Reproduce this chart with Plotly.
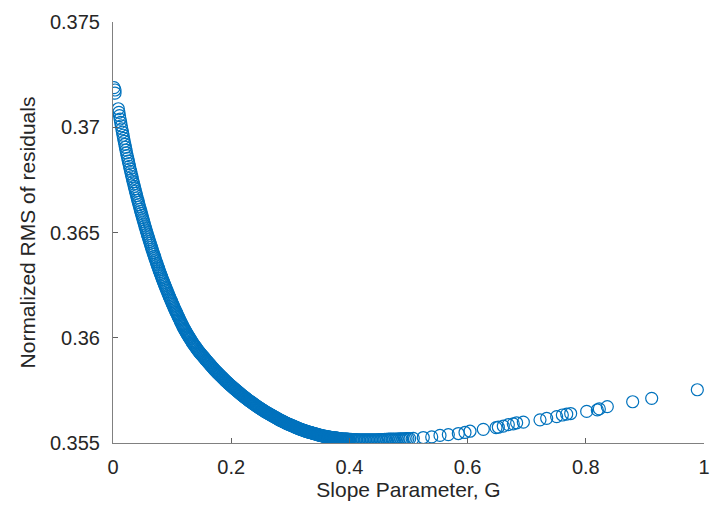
import plotly.graph_objects as go

# Slope parameter G (x) and normalized RMS of residuals (y)
g_vals = [
    0.0017, 0.0034, 0.0034,
    0.009, 0.010, 0.011, 0.012, 0.013, 0.014, 0.015, 0.016, 0.017, 0.018,
    0.019, 0.020, 0.021, 0.022, 0.023, 0.024, 0.025, 0.026, 0.027, 0.028,
    0.029, 0.030, 0.031, 0.032, 0.033, 0.034, 0.035, 0.036, 0.037, 0.038,
    0.039, 0.040, 0.041, 0.042, 0.043, 0.044, 0.045, 0.046, 0.047, 0.048,
    0.049, 0.050, 0.051, 0.052, 0.053, 0.054, 0.055, 0.056, 0.057, 0.058,
    0.059, 0.060, 0.061, 0.062, 0.063, 0.064, 0.065, 0.066, 0.067, 0.068,
    0.069, 0.070, 0.071, 0.072, 0.073, 0.074, 0.075, 0.076, 0.077, 0.078,
    0.079, 0.080, 0.081, 0.082, 0.083, 0.084, 0.085, 0.086, 0.087, 0.088,
    0.089, 0.090, 0.091, 0.092, 0.093, 0.094, 0.095, 0.096, 0.097, 0.098,
    0.099, 0.100, 0.101, 0.102, 0.103, 0.104, 0.105, 0.106, 0.107, 0.108,
    0.109, 0.110, 0.111, 0.112, 0.113, 0.114, 0.115, 0.116, 0.117, 0.118,
    0.119, 0.120, 0.121, 0.122, 0.123, 0.124, 0.125, 0.126, 0.127, 0.128,
    0.129, 0.130, 0.131,
    0.1325, 0.135, 0.1375, 0.140, 0.1425, 0.145, 0.1475, 0.150, 0.1525, 0.155,
    0.1575, 0.160, 0.1625, 0.165, 0.1675, 0.170, 0.1725, 0.175, 0.1775, 0.180,
    0.1825, 0.185, 0.1875, 0.190, 0.1925, 0.195, 0.1975, 0.200, 0.2025, 0.205,
    0.2075, 0.210, 0.2125, 0.215, 0.2175, 0.220, 0.2225, 0.225, 0.2275, 0.230,
    0.2325, 0.235, 0.2375, 0.240, 0.2425, 0.245, 0.2475, 0.250, 0.2525, 0.255,
    0.2575, 0.260, 0.2625, 0.265, 0.2675, 0.270, 0.2725, 0.275, 0.2775, 0.280,
    0.2825, 0.285, 0.2875, 0.290, 0.2925, 0.295, 0.2975, 0.300, 0.3025, 0.305,
    0.3075, 0.310, 0.3125, 0.315, 0.3175, 0.320, 0.3225, 0.325, 0.3275, 0.330,
    0.3325, 0.335, 0.3375, 0.340, 0.3425, 0.345, 0.3475, 0.350, 0.3525, 0.355,
    0.3575, 0.360, 0.3625, 0.365, 0.3675, 0.370, 0.3725, 0.375, 0.3775, 0.380,
    0.3825, 0.385, 0.3875, 0.390, 0.3925, 0.395, 0.3975, 0.400,
    0.405, 0.410, 0.415, 0.420, 0.425, 0.430, 0.435, 0.440, 0.445, 0.450,
    0.455, 0.460, 0.466, 0.472, 0.478, 0.484, 0.490, 0.496, 0.502,
    0.5081, 0.5250, 0.5393, 0.5533, 0.5674, 0.5843, 0.5956, 0.6041, 0.6266,
    0.6481, 0.6520, 0.6604, 0.6689, 0.6773, 0.6830, 0.6943, 0.7225, 0.7338,
    0.7507, 0.7603, 0.7677, 0.7744, 0.8015, 0.8195, 0.8229, 0.8364, 0.8793,
    0.9115, 0.9887,
]
rms_vals = [
    0.37188, 0.37177, 0.37162,
    0.37088, 0.37071, 0.37055, 0.37039, 0.37023, 0.37007, 0.36992, 0.36977, 0.36962, 0.36947,
    0.36933, 0.36919, 0.36905, 0.36891, 0.36878, 0.36865, 0.36852, 0.36839, 0.36827, 0.36814,
    0.36802, 0.36790, 0.36778, 0.36766, 0.36754, 0.36742, 0.36731, 0.36719, 0.36708, 0.36697,
    0.36686, 0.36675, 0.36664, 0.36653, 0.36643, 0.36632, 0.36622, 0.36611, 0.36601, 0.36591,
    0.36581, 0.36571, 0.36561, 0.36551, 0.36541, 0.36531, 0.36522, 0.36512, 0.36503, 0.36493,
    0.36484, 0.36475, 0.36466, 0.36457, 0.36448, 0.36439, 0.36430, 0.36421, 0.36413, 0.36404,
    0.36396, 0.36387, 0.36379, 0.36370, 0.36362, 0.36354, 0.36346, 0.36338, 0.36330, 0.36322,
    0.36314, 0.36306, 0.36299, 0.36291, 0.36284, 0.36276, 0.36269, 0.36261, 0.36254, 0.36247,
    0.36240, 0.36233, 0.36226, 0.36219, 0.36212, 0.36205, 0.36198, 0.36191, 0.36185, 0.36178,
    0.36172, 0.36165, 0.36159, 0.36152, 0.36146, 0.36139, 0.36133, 0.36127, 0.36121, 0.36115,
    0.36109, 0.36103, 0.36097, 0.36091, 0.36085, 0.36079, 0.36073, 0.36067, 0.36062, 0.36056,
    0.36051, 0.36045, 0.36040, 0.36035, 0.36030, 0.36025, 0.36020, 0.36015, 0.36011, 0.36006,
    0.36002, 0.35997, 0.35993,
    0.35986, 0.35975, 0.35965, 0.35955, 0.35945, 0.35936, 0.35927, 0.35919, 0.35911, 0.35903,
    0.35894, 0.35886, 0.35878, 0.35870, 0.35862, 0.35854, 0.35846, 0.35839, 0.35832, 0.35825,
    0.35818, 0.35811, 0.35804, 0.35797, 0.35790, 0.35784, 0.35777, 0.35771, 0.35765, 0.35759,
    0.35753, 0.35747, 0.35741, 0.35735, 0.35729, 0.35724, 0.35718, 0.35713, 0.35707, 0.35702,
    0.35697, 0.35692, 0.35687, 0.35682, 0.35677, 0.35672, 0.35667, 0.35663, 0.35658, 0.35654,
    0.35649, 0.35645, 0.35641, 0.35637, 0.35633, 0.35629, 0.35625, 0.35621, 0.35617, 0.35613,
    0.35609, 0.35606, 0.35602, 0.35599, 0.35595, 0.35592, 0.35589, 0.35586, 0.35583, 0.35580,
    0.35577, 0.35574, 0.35571, 0.35568, 0.35565, 0.35563, 0.35560, 0.35558, 0.35555, 0.35553,
    0.35551, 0.35549, 0.35547, 0.35545, 0.35543, 0.35541, 0.35539, 0.35537, 0.35535, 0.35534,
    0.35532, 0.35531, 0.35529, 0.35528, 0.35527, 0.35526, 0.35525, 0.35524, 0.35523, 0.35522,
    0.35521, 0.35520, 0.35519, 0.35519, 0.35518, 0.35518, 0.35517, 0.35517,
    0.35516, 0.35516, 0.35515, 0.35515, 0.35515, 0.35515, 0.35515, 0.35515, 0.35515, 0.35516,
    0.35516, 0.35517, 0.35518, 0.35518, 0.35519, 0.35520, 0.35520, 0.35521, 0.35521,
    0.35522, 0.35526, 0.35529, 0.35536, 0.35540, 0.35545, 0.35550, 0.35556, 0.35565,
    0.35573, 0.35575, 0.35580, 0.35587, 0.35591, 0.35596, 0.35599, 0.35610, 0.35617,
    0.35625, 0.35633, 0.35637, 0.35640, 0.35650, 0.35657, 0.35662, 0.35673, 0.35696,
    0.35712, 0.35753,
]
# additional samples read along the densest part of the band
g_vals_dense = [
    0.13375, 0.13625, 0.13875, 0.14125, 0.14375, 0.14625, 0.14875, 0.15125, 0.15375, 0.15625,
    0.15875, 0.16125, 0.16375, 0.16625, 0.16875, 0.17125, 0.17375, 0.17625, 0.17875, 0.18125,
    0.18375, 0.18625, 0.18875, 0.19125, 0.19375, 0.19625, 0.19875, 0.20125, 0.20375, 0.20625,
    0.20875, 0.21125, 0.21375, 0.21625, 0.21875, 0.22125, 0.22375, 0.22625, 0.22875, 0.23125,
    0.23375, 0.23625, 0.23875, 0.24125, 0.24375, 0.24625, 0.24875, 0.25125, 0.25375, 0.25625,
    0.25875, 0.26125, 0.26375, 0.26625, 0.26875, 0.27125, 0.27375, 0.27625, 0.27875, 0.28125,
    0.28375, 0.28625, 0.28875, 0.29125, 0.29375, 0.29625, 0.29875, 0.30125, 0.30375, 0.30625,
    0.30875, 0.31125, 0.31375, 0.31625, 0.31875, 0.32125, 0.32375, 0.32625, 0.32875, 0.33125,
    0.33375, 0.33625, 0.33875, 0.34125, 0.34375, 0.34625, 0.34875, 0.35125, 0.35375, 0.35625,
    0.35875, 0.36125, 0.36375, 0.36625, 0.36875, 0.37125, 0.37375, 0.37625, 0.37875, 0.38125,
    0.38375, 0.38625, 0.38875, 0.39125, 0.39375, 0.39625, 0.39875,
    0.4025, 0.4075, 0.4125, 0.4175, 0.4225, 0.4275, 0.4325, 0.4375, 0.4425, 0.4475,
    0.4525, 0.4575, 0.463, 0.469, 0.475, 0.481, 0.487, 0.493, 0.499,
]
rms_vals_dense = [
    0.35980, 0.35970, 0.35960, 0.35950, 0.35940, 0.35931, 0.35923, 0.35915, 0.35907, 0.35898,
    0.35890, 0.35882, 0.35874, 0.35866, 0.35858, 0.35850, 0.35842, 0.35835, 0.35828, 0.35821,
    0.35814, 0.35807, 0.35800, 0.35793, 0.35787, 0.35780, 0.35774, 0.35768, 0.35762, 0.35756,
    0.35750, 0.35744, 0.35738, 0.35732, 0.35726, 0.35721, 0.35715, 0.35710, 0.35704, 0.35699,
    0.35694, 0.35689, 0.35684, 0.35679, 0.35674, 0.35669, 0.35665, 0.35660, 0.35656, 0.35651,
    0.35647, 0.35643, 0.35639, 0.35635, 0.35631, 0.35627, 0.35623, 0.35619, 0.35615, 0.35611,
    0.35607, 0.35604, 0.35600, 0.35597, 0.35593, 0.35590, 0.35587, 0.35584, 0.35581, 0.35578,
    0.35575, 0.35572, 0.35569, 0.35566, 0.35564, 0.35561, 0.35559, 0.35556, 0.35554, 0.35552,
    0.35550, 0.35548, 0.35546, 0.35544, 0.35542, 0.35540, 0.35538, 0.35536, 0.35534, 0.35533,
    0.35531, 0.35530, 0.35529, 0.35528, 0.35527, 0.35526, 0.35525, 0.35524, 0.35523, 0.35522,
    0.35521, 0.35520, 0.35519, 0.35519, 0.35518, 0.35518, 0.35517,
    0.35517, 0.35516, 0.35516, 0.35515, 0.35515, 0.35515, 0.35515, 0.35515, 0.35515, 0.35515,
    0.35516, 0.35516, 0.35517, 0.35518, 0.35518, 0.35519, 0.35520, 0.35520, 0.35521,
]
x_ticks = [0, 0.2, 0.4, 0.6, 0.8, 1]
x_tick_labels = ["0", "0.2", "0.4", "0.6", "0.8", "1"]
y_ticks = [0.355, 0.36, 0.365, 0.37, 0.375]
y_tick_labels = ["0.355", "0.36", "0.365", "0.37", "0.375"]

FONT = "Liberation Sans, Arial, sans-serif"

fig = go.Figure()
fig.add_trace(go.Scatter(
    x=g_vals + g_vals_dense, y=rms_vals + rms_vals_dense, mode="markers",
    marker=dict(symbol="circle-open", size=12, color="#0072BD",
                line=dict(width=1.2, color="#0072BD")),
    showlegend=False,
))

axis_common = dict(
    showgrid=False, zeroline=False, showline=True, linecolor="#808080", linewidth=1,
    ticks="inside", ticklen=5, tickcolor="#606060", tickwidth=1,
    tickfont=dict(family=FONT, size=20, color="#262626"),
    mirror=False,
)
fig.update_xaxes(range=[0, 1], tickvals=x_ticks, ticktext=x_tick_labels,
                 ticklabelstandoff=6,
                 title=dict(text="Slope Parameter, G", standoff=5,
                            font=dict(family=FONT, size=21, color="#262626")),
                 **axis_common)
fig.update_yaxes(range=[0.355, 0.375], tickvals=y_ticks, ticktext=y_tick_labels,
                 ticklabelstandoff=8,
                 title=dict(text="Normalized RMS of residuals", standoff=8,
                            font=dict(family=FONT, size=21, color="#262626")),
                 **axis_common)
fig.update_layout(
    width=726, height=510,
    margin=dict(l=113, r=22, t=11, b=67),
    plot_bgcolor="white", paper_bgcolor="white",
)
fig.write_html("out.html")
